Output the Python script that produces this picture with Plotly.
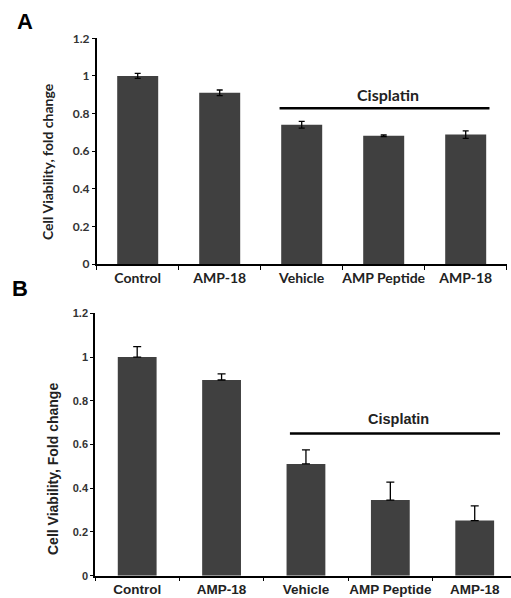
import plotly.graph_objects as go

categories = ["Control", "AMP-18 ", "Vehicle", "AMP Peptide", "AMP-18"]
tick_labels = ["Control", "AMP-18", "Vehicle", "AMP Peptide", "AMP-18"]

values_a = [1.0, 0.91, 0.74, 0.682, 0.688]
err_a = [0.013, 0.015, 0.018, 0.004, 0.02]

values_b = [1.0, 0.895, 0.511, 0.346, 0.252]
err_b = [0.048, 0.028, 0.064, 0.082, 0.067]

y_ticks = [0, 0.2, 0.4, 0.6, 0.8, 1.0, 1.2]
y_tick_text = ["0", "0.2", "0.4", "0.6", "0.8", "1", "1.2"]

bar_color = "#404040"
font_a = "Lato, 'Open Sans', sans-serif"
font_b = "'Liberation Sans', Arial, sans-serif"

fig = go.Figure()
fig.add_trace(go.Bar(
    x=categories, y=values_a, width=0.5, marker=dict(color=bar_color, line=dict(width=0)),
    error_y=dict(type="data", array=err_a, symmetric=True, color="black", thickness=1.3, width=3),
    xaxis="x", yaxis="y", showlegend=False))
fig.add_trace(go.Bar(
    x=categories, y=values_b, width=0.46, marker=dict(color=bar_color, line=dict(width=0)),
    error_y=dict(type="data", array=err_b, arrayminus=[0]*len(err_b), symmetric=False,
                 color="black", thickness=1.3, width=4),
    xaxis="x2", yaxis="y2", showlegend=False))

common_x = dict(type="category", showline=True, linecolor="black", linewidth=1.5,
                ticks="outside", tickson="boundaries", ticklen=4, tickcolor="black",
                showgrid=False, zeroline=False, tickvals=categories, ticktext=tick_labels,
                tickangle=0, automargin=False)
common_y = dict(range=[0, 1.2], showline=True, linecolor="black", linewidth=1.5,
                ticks="outside", ticklen=3, tickcolor="black", showgrid=False, zeroline=False,
                tickvals=y_ticks, ticktext=y_tick_text, automargin=False)

W, H = 511, 598
fig.update_layout(
    width=W, height=H, margin=dict(l=0, r=0, t=0, b=0),
    paper_bgcolor="white", plot_bgcolor="white", bargap=0.5,
    xaxis=dict(**common_x, domain=[96.7/W, 506.7/W], range=[-0.5, 4.5], anchor="y",
               tickfont=dict(family=font_a, size=14, color="#222", weight="bold")),
    yaxis=dict(**common_y, domain=[1-264/H, 1-38.3/H], anchor="x",
               tickfont=dict(family=font_a, size=12, color="#333", weight="bold")),
    xaxis2=dict(**common_x, domain=[95/W, 1.0], range=[-0.5, 4.43], anchor="y2",
                tickfont=dict(family=font_b, size=13.5, color="#222", weight="bold")),
    yaxis2=dict(**common_y, domain=[1-575.7/H, 1-313.3/H], anchor="x2",
                tickfont=dict(family=font_b, size=11, color="#333", weight="bold")),
    shapes=[
        dict(type="line", xref="x", yref="y", x0=1.73, x1=4.29, y0=0.828, y1=0.828,
             line=dict(color="black", width=2.5)),
        dict(type="line", xref="x2", yref="y2", x0=1.81, x1=4.30, y0=0.65, y1=0.65,
             line=dict(color="black", width=2.5)),
    ],
    annotations=[
        dict(text="Cisplatin", xref="x", yref="y", x=3.05, y=0.90, showarrow=False,
             xanchor="center", yanchor="middle",
             font=dict(family=font_a, size=16, color="#222", weight="bold")),
        dict(text="Cisplatin", xref="x2", yref="y2", x=3.10, y=0.715, showarrow=False,
             xanchor="center", yanchor="middle",
             font=dict(family=font_b, size=14.5, color="#222", weight="bold")),
        dict(text="A", xref="paper", yref="paper", x=25/W, y=1-22/H, showarrow=False,
             xanchor="center", yanchor="middle",
             font=dict(family=font_b, size=22, color="black", weight="bold")),
        dict(text="B", xref="paper", yref="paper", x=20/W, y=1-288/H, showarrow=False,
             xanchor="center", yanchor="middle",
             font=dict(family=font_b, size=22, color="black", weight="bold")),
        dict(text="Cell Viability, fold change", xref="paper", yref="paper",
             x=47/W, y=1-162/H, textangle=-90, showarrow=False,
             xanchor="center", yanchor="middle",
             font=dict(family=font_a, size=14, color="#222", weight="bold")),
        dict(text="Cell Viability, Fold change", xref="paper", yref="paper",
             x=53/W, y=1-469/H, textangle=-90, showarrow=False,
             xanchor="center", yanchor="middle",
             font=dict(family=font_b, size=14, color="#222", weight="bold")),
    ],
)

fig.write_html("out.html", config={"displayModeBar": False},
               post_script="document.body.style.margin='0';document.body.style.overflow='hidden';")
